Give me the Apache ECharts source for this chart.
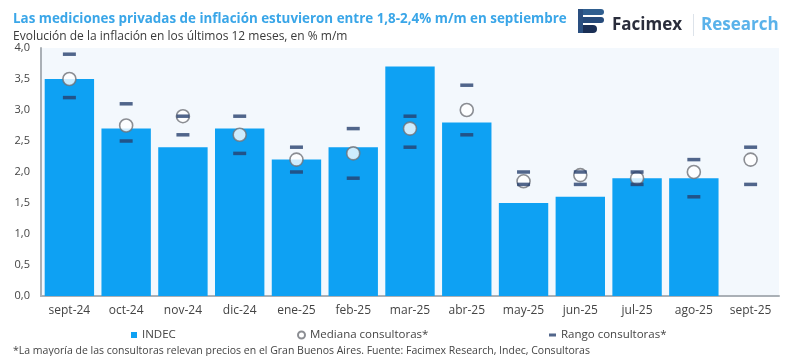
<!DOCTYPE html>
<html><head><meta charset="utf-8">
<script src="https://cdn.jsdelivr.net/npm/echarts@6/dist/echarts.min.js"></script>
<style>html,body{margin:0;padding:0;background:#fff}#c{width:800px;height:356px}</style>
</head><body><div id="c"></div>
<script>
var categories = ['sept-24','oct-24','nov-24','dic-24','ene-25','feb-25','mar-25','abr-25','may-25','jun-25','jul-25','ago-25','sept-25'];
var indec = [3.5, 2.7, 2.4, 2.7, 2.2, 2.4, 3.7, 2.8, 1.5, 1.6, 1.9, 1.9, null];
var mediana = [3.5, 2.75, 2.9, 2.6, 2.2, 2.3, 2.7, 3.0, 1.85, 1.95, 1.9, 2.0, 2.2];
var rangoMax = [3.9, 3.1, 2.9, 2.9, 2.4, 2.7, 2.9, 3.4, 2.0, 2.0, 2.0, 2.2, 2.4];
var rangoMin = [3.2, 2.5, 2.6, 2.3, 2.0, 1.9, 2.4, 2.6, 1.8, 1.8, 1.8, 1.6, 1.8];
var yTicks = [0, 0.5, 1, 1.5, 2, 2.5, 3, 3.5, 4];

var rangoData = [];
categories.forEach(function(c, i){ rangoData.push([i, rangoMax[i]]); rangoData.push([i, rangoMin[i]]); });

var FONT = '"Open Sans", sans-serif';
var chart = echarts.init(document.getElementById('c'), null, {renderer:'canvas'});
chart.setOption({
  animation:false,
  textStyle:{fontFamily:FONT},
  title:[
    {text:'Las mediciones privadas de inflación estuvieron entre 1,8-2,4% m/m en septiembre', left:8, top:8,
     textStyle:{fontFamily:FONT, fontSize:13.4, fontWeight:'bold', color:'#3aa6e8'}},
    {text:'Evolución de la inflación en los últimos 12 meses, en % m/m', left:8, top:26,
     textStyle:{fontFamily:FONT, fontSize:12, fontWeight:'normal', color:'#3a3a3a'}},
    {text:'*La mayoría de las consultoras relevan precios en el Gran Buenos Aires. Fuente: Facimex Research, Indec, Consultoras', left:8, top:341,
     textStyle:{fontFamily:FONT, fontSize:10.5, fontWeight:'normal', color:'#444'}}
  ],
  legend:[
    {data:[{name:'INDEC', icon:'rect'}], left:126, top:324, itemWidth:6, itemHeight:6, itemGap:4,
     textStyle:{fontFamily:FONT, fontSize:11.5, color:'#444'}},
    {data:[{name:'Mediana consultoras*', icon:'circle'}], left:292, top:324, itemWidth:7, itemHeight:7,
     textStyle:{fontFamily:FONT, fontSize:11.5, color:'#444'}},
    {data:[{name:'Rango consultoras*', icon:'rect'}], left:544, top:324, itemWidth:7, itemHeight:3,
     textStyle:{fontFamily:FONT, fontSize:11.5, color:'#444'}}
  ],
  grid:{left:41, right:21, top:48, bottom:60, show:true, backgroundColor:'#f3f8fd', borderWidth:0},
  xAxis:{type:'category', data:categories,
    axisLine:{lineStyle:{color:'#aab0b6', width:2}}, axisTick:{show:false},
    axisLabel:{fontFamily:FONT, fontSize:12, color:'#444', margin:9, interval:0}},
  yAxis:{type:'value', min:0, max:4, interval:0.5,
    axisLine:{show:true, lineStyle:{color:'#aab0b6', width:2}}, axisTick:{show:false},
    splitLine:{show:false},
    axisLabel:{fontFamily:FONT, fontSize:11, color:'#444', margin:11,
      formatter:function(v){ return yTicks.indexOf(v) >= 0 ? v.toFixed(1).replace('.', ',') : ''; }}},
  series:[
    {name:'INDEC', type:'bar', data:indec, barCategoryGap:'13%', itemStyle:{color:'#0ea1f3'}},
    {name:'Mediana consultoras*', type:'scatter', data:mediana, symbol:'circle', symbolSize:13, z:3,
     itemStyle:{color:'#ffffff', borderColor:'#6f7278', borderWidth:1.6}},
    {name:'Rango consultoras*', type:'scatter', data:rangoData, symbol:'rect', symbolSize:[13,3.5], z:4,
     itemStyle:{color:'#27406e'}}
  ],
  graphic:[
    {type:'rect', shape:{x:578, y:9, width:26, height:6, r:[1,4,4,1]}, style:{fill:'#2f5e8f'}},
    {type:'rect', shape:{x:580, y:17, width:24, height:6, r:[1,4,4,1]}, style:{fill:'#264a7a'}},
    {type:'rect', shape:{x:581, y:25, width:16, height:8, r:[1,4,4,1]}, style:{fill:'#1a2f55'}},
    {type:'rect', shape:{x:578, y:9, width:5, height:24}, style:{fill:'#2a4f80'}},
    {type:'text', style:{text:'Facimex', x:612, y:25, textVerticalAlign:'middle', font:'bold 17px "Open Sans", sans-serif', fill:'#2a2d3b'}},
    {type:'rect', shape:{x:693, y:14, width:1, height:22}, style:{fill:'#dde3ea'}},
    {type:'text', style:{text:'Research', x:701, y:25, textVerticalAlign:'middle', font:'bold 17px "Open Sans", sans-serif', fill:'#5ab2ea'}}
  ]
});
</script></body></html>
